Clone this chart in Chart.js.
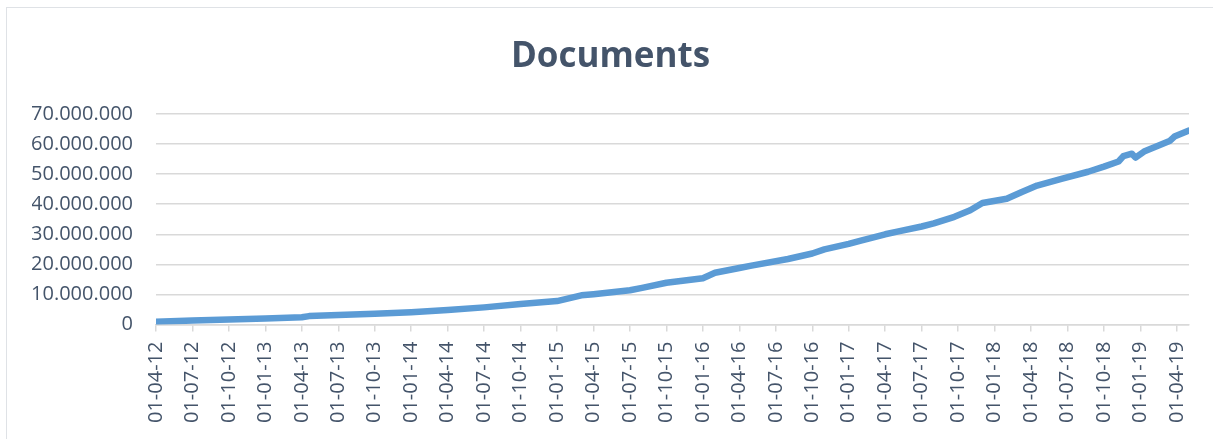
<!DOCTYPE html>
<html>
<head>
<meta charset="utf-8">
<script src="https://cdn.jsdelivr.net/npm/chart.js@4/dist/chart.umd.min.js"></script>
<style>
  html, body { margin: 0; padding: 0; background: #fff; }
  .frame { position: absolute; left: 6px; top: 7px; width: 1300px; height: 500px;
           border-left: 1.5px solid #dfe2e6; border-top: 1.5px solid #dfe2e6; }
  .wrap { position: absolute; left: 0; top: 0; width: 1213px; height: 439px; }
</style>
</head>
<body>
<div class="frame"></div>
<div class="wrap"><canvas id="docChart"></canvas></div>
<script>
// quarterly axis labels, one every 3 months starting April 2012
const tickLabels = [
  "01-04-12", "01-07-12", "01-10-12", "01-01-13", "01-04-13", "01-07-13", "01-10-13",
  "01-01-14", "01-04-14", "01-07-14", "01-10-14", "01-01-15", "01-04-15", "01-07-15",
  "01-10-15", "01-01-16", "01-04-16", "01-07-16", "01-10-16", "01-01-17", "01-04-17",
  "01-07-17", "01-10-17", "01-01-18", "01-04-18", "01-07-18", "01-10-18", "01-01-19",
  "01-04-19"
];

// months since 01-04-12
const months = [
  0, 3, 6, 9, 12, 12.6, 15, 18, 21, 24, 27, 30, 33, 35, 36, 39, 40, 42, 45, 46, 48, 49,
  52, 54, 55, 57, 58, 60, 61, 63, 64, 65.7, 67, 68, 70, 71.2, 72.5, 74.5, 76.7, 78,
  79.2, 79.6, 80.3, 80.6, 81.3, 82.8, 83.4, 83.8, 85
];

// documents, millions
const documents = [
  0.9, 1.3, 1.7, 2.0, 2.4, 2.8, 3.2, 3.6, 4.1, 4.8, 5.7, 6.8, 7.8, 9.7, 10.1, 11.4, 12.2,
  13.9, 15.4, 17.2, 18.8, 19.6, 21.8, 23.6, 25.0, 26.8, 27.9, 30.0, 30.9, 32.6, 33.6,
  35.8, 38.0, 40.4, 41.8, 44.0, 46.2, 48.4, 50.8, 52.5, 54.2, 56.0, 56.8, 55.5, 57.5,
  60.0, 61.0, 62.5, 64.5
];

const textColor = "#44546a";
const gridColor = "#d9d9d9";

const ctx = document.getElementById("docChart").getContext("2d");
new Chart(ctx, {
  type: "line",
  data: {
    datasets: [{
      label: "Documents",
      data: months.map((m, i) => ({ x: m, y: documents[i] * 1000000 })),
      borderColor: "#5b9bd5",
      borderWidth: 6.5,
      borderCapStyle: "round",
      borderJoinStyle: "round",
      pointRadius: 0,
      tension: 0,
      fill: false
    }]
  },
  options: {
    responsive: true,
    maintainAspectRatio: false,
    animation: false,
    layout: { padding: { left: 32, right: 24, top: 0, bottom: 6 } },
    plugins: {
      legend: { display: false },
      tooltip: { enabled: false },
      title: {
        display: true,
        text: "Documents",
        color: textColor,
        font: { family: "Open Sans", size: 35, weight: "bold" },
        padding: { top: 36, bottom: 36 }
      }
    },
    scales: {
      x: {
        type: "linear",
        min: 0,
        max: 85,
        afterBuildTicks: (scale) => {
          scale.ticks = tickLabels.map((_, i) => ({ value: i * 3 }));
        },
        ticks: {
          autoSkip: false,
          maxRotation: 90,
          minRotation: 90,
          color: textColor,
          padding: 10,
          font: { family: "Open Sans", size: 20 },
          callback: (v) => tickLabels[v / 3] || ""
        },
        grid: { drawOnChartArea: false, drawTicks: true, tickLength: 7, color: gridColor, lineWidth: 1.5 },
        border: { color: gridColor, width: 1.5 }
      },
      y: {
        min: 0,
        max: 70000000,
        afterFit: (scale) => { scale.width = 124; },
        ticks: {
          stepSize: 10000000,
          color: textColor,
          padding: 23,
          font: { family: "Open Sans", size: 20 },
          callback: (v) => v.toLocaleString("de-DE")
        },
        grid: { color: gridColor, lineWidth: 1.5, drawTicks: false },
        border: { display: false }
      }
    }
  }
});
</script>
</body>
</html>
